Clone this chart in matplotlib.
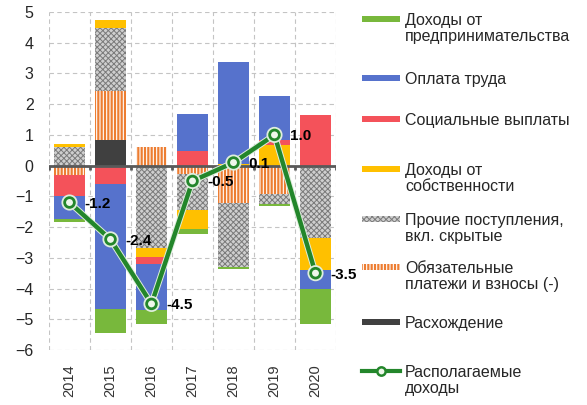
import numpy as np
import matplotlib
matplotlib.use('Agg')
import matplotlib.pyplot as plt
import matplotlib.patheffects as pe
from matplotlib.patches import Rectangle
from matplotlib.lines import Line2D

plt.rcParams['font.family'] = ['Liberation Sans', 'DejaVu Sans']

years = ['2014', '2015', '2016', '2017', '2018', '2019', '2020']

# components, percentage points
business = [-0.10, -0.80, -0.44, -0.16, -0.05, -0.06, -1.11]
wages = [-0.77, -4.04, -1.51, 1.20, 3.33, 1.43, -0.63]
social = [-0.69, -0.61, -0.22, 0.48, 0.0, 0.16, 1.64]
property_inc = [0.12, 0.27, -0.29, -0.62, 0.05, 0.67, -1.06]
other = [0.60, 2.04, -2.68, -1.15, -2.09, -0.33, -2.34]
mandatory = [-0.29, 1.60, 0.61, -0.28, -1.21, -0.93, 0.0]
discrepancy = [0.0, 0.83, 0.0, 0.0, 0.0, 0.0, 0.0]
disposable = [-1.2, -2.4, -4.5, -0.5, 0.1, 1.0, -3.5]

labels = ['Доходы от\nпредпринимательства', 'Оплата труда', 'Социальные выплаты',
          'Доходы от\nсобственности', 'Прочие поступления,\nвкл. скрытые',
          'Обязательные\nплатежи и взносы (-)', 'Расхождение']
line_label = 'Располагаемые\nдоходы'

green = '#78b83c'
blue = '#5672cc'
red = '#f4525a'
yellow = '#ffc000'
orange = '#ed7d31'
dark = '#404040'
line_col = '#23862b'

styles = [
    dict(color=green, edgecolor=green),
    dict(color=blue, edgecolor=blue),
    dict(color=red, edgecolor=red),
    dict(color=yellow, edgecolor=yellow),
    dict(color='#cfcfcf', edgecolor='#7a7a7a', hatch='xxxxxx', hlw=0.7),
    dict(color='white', edgecolor=orange, hatch='|||||', hlw=1.6),
    dict(color=dark, edgecolor=dark),
]
series = [business, wages, social, property_inc, other, mandatory, discrepancy]


def set_hlw(p, lw):
    if hasattr(p, 'set_hatch_linewidth'):
        p.set_hatch_linewidth(lw)


fig = plt.figure(figsize=(5.87, 4.05), dpi=100)
W, H = 587, 405
ax = fig.add_axes([49 / W, 1 - 350 / H, 287 / W, 338 / H])

x = np.arange(len(years))
pos = np.zeros(len(years))
neg = np.zeros(len(years))
# stacked from the axis outward: discrepancy first, business last
for i in [6, 5, 4, 3, 2, 1, 0]:
    v = np.array(series[i])
    st = styles[i]
    bottom = np.where(v >= 0, pos, neg)
    with plt.rc_context({'hatch.linewidth': st.get('hlw', 1.0)}):
        bars = ax.bar(x, v, 0.75, bottom=bottom, color=st['color'],
                      edgecolor=st['edgecolor'], hatch=st.get('hatch'),
                      linewidth=0, zorder=2)
    for p in bars:
        set_hlw(p, st.get('hlw', 1.0))
    pos += np.where(v > 0, v, 0)
    neg += np.where(v < 0, v, 0)

ax.axhline(0, color='#595959', lw=2, zorder=3)
ax.vlines(np.arange(-0.5, len(years)), 0, -0.13, color='#595959', lw=2, zorder=3)

ax.plot(x, disposable, color=line_col, lw=3.2, marker='o', ms=7, mfc='#eef7ea',
        mec=line_col, mew=2, zorder=5,
        path_effects=[pe.Stroke(linewidth=4.6, foreground='#dfeedd'), pe.Normal()])
for xi, v in zip(x, disposable):
    ax.annotate(f'{v:.1f}', (xi, v), xytext=(11, -1), textcoords='offset points',
                ha='left', va='center', fontsize=11, fontweight='bold', zorder=6)

ax.set_xlim(-0.5, len(years) - 0.5)
ax.set_ylim(-6, 5)
ax.set_yticks(range(-6, 6))
ax.set_xticks(x)
ax.set_xticklabels(years, rotation=90, fontsize=10.5, color='#333333')
ax.set_xticks(np.arange(-0.5, len(years)), minor=True)
ax.tick_params(axis='both', which='both', length=0)
ax.tick_params(axis='x', pad=10)
ax.tick_params(axis='y', labelsize=11.5, pad=11, labelcolor='#262626')
ax.grid(axis='y', which='major', ls=(0, (4, 3)), color='#c4c4c4', lw=0.8, zorder=0)
ax.grid(axis='x', which='minor', ls=(0, (4, 3)), color='#c4c4c4', lw=0.8, zorder=0)
for s in ax.spines.values():
    s.set_visible(False)

# legend drawn at fixed positions to follow the original layout
patch_y = [19, 78, 119, 169, 219, 267, 322]
for i, (lab, py) in enumerate(zip(labels, patch_y)):
    st = styles[i]
    with plt.rc_context({'hatch.linewidth': st.get('hlw', 1.0)}):
        r = Rectangle((362 / W, 1 - (py + 3) / H), 38 / W, 6 / H,
                      transform=fig.transFigure, facecolor=st['color'],
                      edgecolor=st['edgecolor'], hatch=st.get('hatch'), lw=0)
    set_hlw(r, st.get('hlw', 1.0))
    fig.add_artist(r)
    fig.text(405 / W, 1 - (py - 6) / H, lab, fontsize=11.5, va='top', ha='left',
             color='#262626', linespacing=1.1)
ly = 371
fig.add_artist(Line2D([362 / W, 400 / W], [1 - ly / H] * 2, transform=fig.transFigure,
                      color=line_col, lw=3))
fig.add_artist(Line2D([381 / W], [1 - ly / H], transform=fig.transFigure,
                      color=line_col, marker='o', ms=6, mfc='#eef7ea', mew=1.8, lw=0))
fig.text(405 / W, 1 - (ly - 6) / H, line_label, fontsize=11.5, va='top', ha='left',
         color='#262626', linespacing=1.1)

fig.savefig('out.png', dpi=100)
